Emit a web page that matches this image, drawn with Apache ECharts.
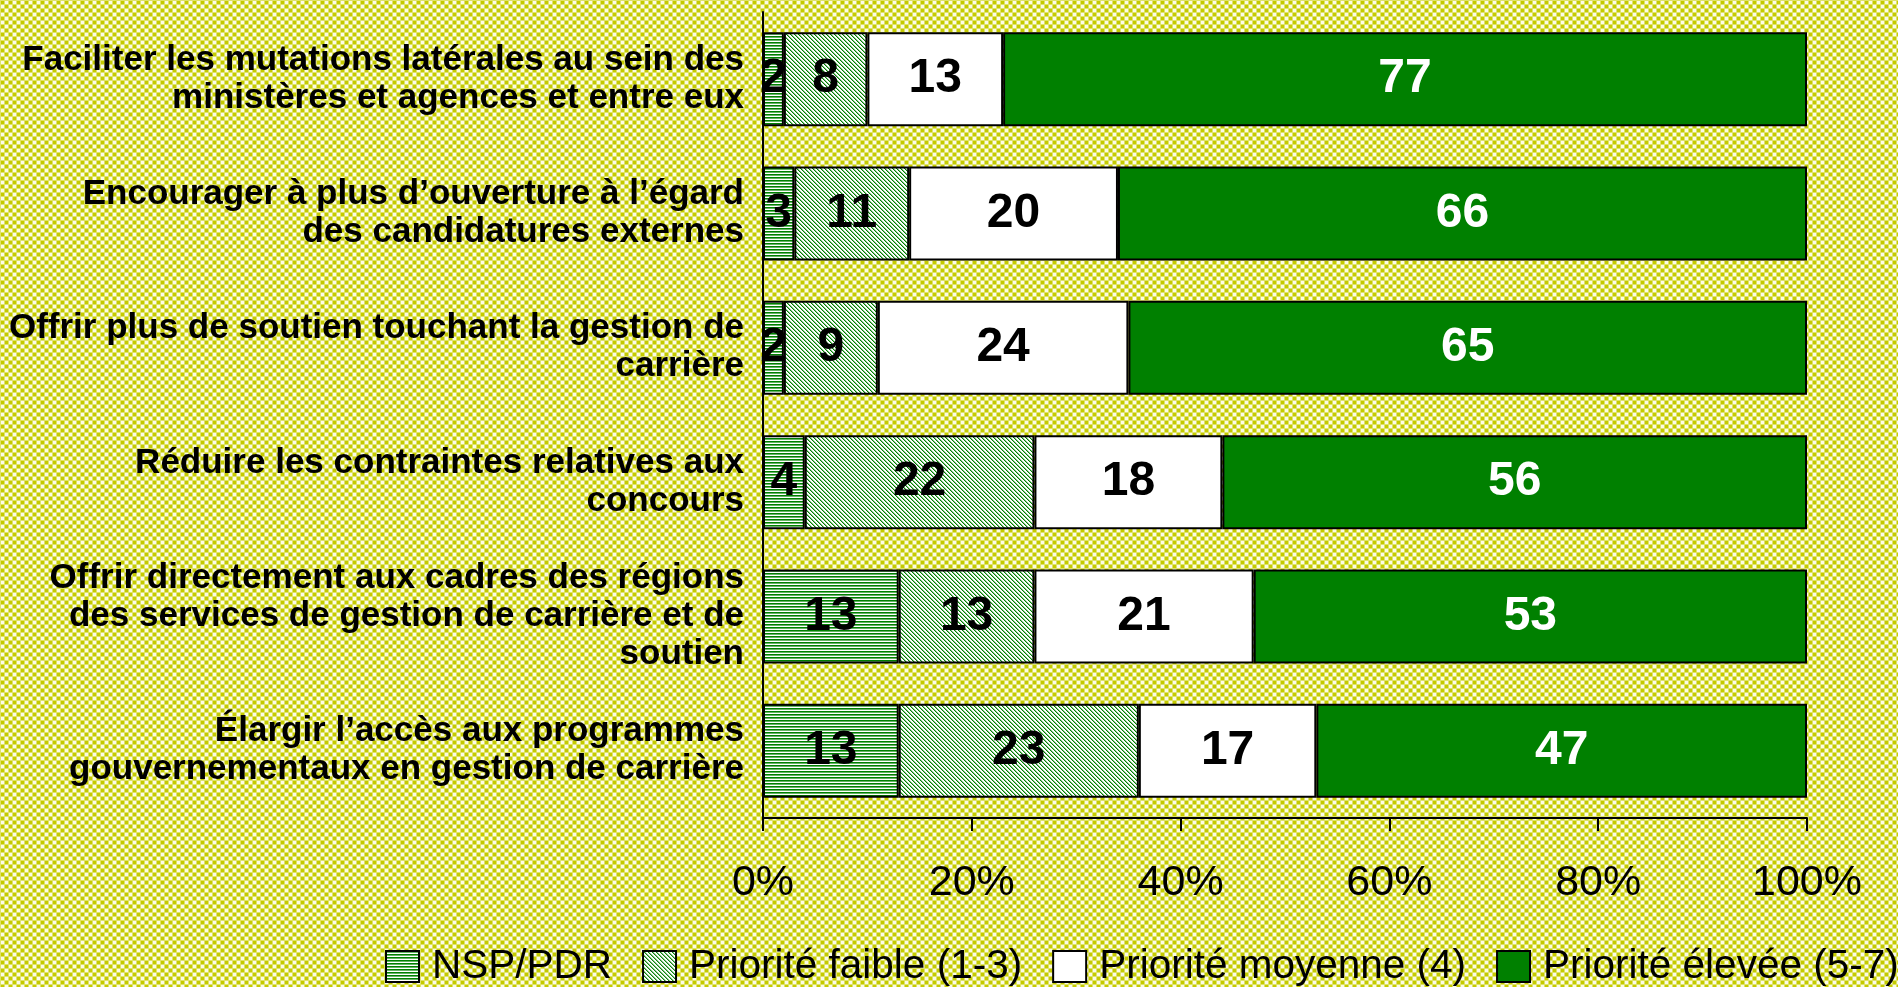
<!DOCTYPE html>
<html>
<head>
<meta charset="utf-8">
<script src="https://cdn.jsdelivr.net/npm/echarts@6/dist/echarts.min.js"></script>
<style>
  html, body { margin: 0; padding: 0; }
  #main { width: 1898px; height: 987px; }
</style>
</head>
<body>
<div id="main"></div>
<script>
// categories (top to bottom)
var categories = [
  'Faciliter les mutations latérales au sein des\nministères et agences et entre eux',
  'Encourager à plus d’ouverture à l’égard\ndes candidatures externes',
  'Offrir plus de soutien touchant la gestion de\ncarrière',
  'Réduire les contraintes relatives aux\nconcours',
  'Offrir directement aux cadres des régions\ndes services de gestion de carrière et de\nsoutien',
  'Élargir l’accès aux programmes\ngouvernementaux en gestion de carrière'
];
var seriesNames = ['NSP/PDR', 'Priorité faible (1-3)', 'Priorité moyenne (4)', 'Priorité élevée (5-7)'];
var nspData = [2, 3, 2, 4, 13, 13];
var faibleData = [8, 11, 9, 22, 13, 23];
var moyenneData = [13, 20, 24, 18, 21, 17];
var eleveeData = [77, 66, 65, 56, 53, 47];
var xTicks = [0, 20, 40, 60, 80, 100];

// patterns
function makeTile(w, h, draw) {
  var c = document.createElement('canvas');
  c.width = w; c.height = h;
  var ctx = c.getContext('2d');
  draw(ctx);
  return c;
}
var bgTile = makeTile(8, 8, function (ctx) {
  ctx.fillStyle = '#fbfbe8';
  ctx.fillRect(0, 0, 8, 8);
  ctx.fillStyle = '#dfe36a';
  ctx.fillRect(0, 0, 5, 5);
  ctx.fillRect(4, 4, 5, 5);
  ctx.fillRect(-4, 4, 5, 5);
  ctx.fillRect(4, -4, 5, 5);
  ctx.fillStyle = '#c4ca00';
  ctx.fillRect(1, 1, 3, 3);
  ctx.fillRect(5, 5, 3, 3);
});
document.getElementById('main').style.background = 'url(' + bgTile.toDataURL() + ')';

var stripeTile = makeTile(4, 3, function (ctx) {
  ctx.fillStyle = '#ffffff';
  ctx.fillRect(0, 0, 4, 3);
  ctx.fillStyle = '#008000';
  ctx.fillRect(0, 0, 4, 1);
  ctx.fillStyle = '#66b366';
  ctx.fillRect(0, 1, 4, 1);
});
var hatchTile = makeTile(4, 4, function (ctx) {
  ctx.fillStyle = '#ffffff';
  ctx.fillRect(0, 0, 4, 4);
  ctx.fillStyle = '#008000';
  for (var i = 0; i < 4; i++) {
    ctx.fillRect(i, i, 1, 1);
  }
  ctx.fillStyle = '#8cc48c';
  for (var j = 0; j < 4; j++) {
    ctx.fillRect((j + 1) % 4, j, 1, 1);
  }
});

var fills = [
  { image: stripeTile, repeat: 'repeat' },
  { image: hatchTile, repeat: 'repeat' },
  '#ffffff',
  '#008000'
];
var labelColors = ['#000', '#000', '#000', '#fff'];
var allData = [nspData, faibleData, moyenneData, eleveeData];

var chart = echarts.init(document.getElementById('main'));

var series = allData.map(function (d, i) {
  return {
    name: seriesNames[i],
    type: 'bar',
    stack: 'total',
    data: d,
    barCategoryGap: '30%',
    itemStyle: { color: fills[i], borderColor: '#000', borderWidth: 2 },
    label: {
      show: true,
      position: 'inside',
      color: labelColors[i],
      fontFamily: 'Liberation Sans, Arial, sans-serif',
      fontWeight: 'bold',
      fontSize: 48,
      padding: [6, 0, 0, 0]
    },
    emphasis: { disabled: true }
  };
});

var option = {
  animation: false,
  grid: { left: 763, right: 91, top: 12, bottom: 169, containLabel: false },
  legend: {
    left: 380,
    top: 941,
    width: 1700,
    itemWidth: 33,
    itemHeight: 31,
    itemGap: 30,
    icon: 'rect',
    textStyle: {
      fontFamily: 'Liberation Sans, Arial, sans-serif',
      fontSize: 40.5,
      color: '#000',
      padding: [0, 0, 0, 8]
    },
    data: seriesNames
  },
  xAxis: {
    type: 'value',
    min: xTicks[0],
    max: xTicks[xTicks.length - 1],
    interval: 20,
    axisLine: { show: true, lineStyle: { color: '#000', width: 2 } },
    axisTick: { show: true, length: 13, lineStyle: { color: '#000', width: 2 } },
    splitLine: { show: false },
    axisLabel: {
      formatter: '{value}%',
      margin: 44,
      color: '#000',
      fontFamily: 'Liberation Sans, Arial, sans-serif',
      fontSize: 43
    }
  },
  yAxis: {
    type: 'category',
    inverse: true,
    data: categories,
    axisLine: { show: true, lineStyle: { color: '#000', width: 2 } },
    axisTick: { show: false },
    axisLabel: {
      margin: 19,
      color: '#000',
      align: 'right',
      fontFamily: 'Liberation Sans, Arial, sans-serif',
      fontWeight: 'bold',
      fontSize: 35,
      lineHeight: 38
    }
  },
  series: series
};

chart.setOption(option);
</script>
</body>
</html>
